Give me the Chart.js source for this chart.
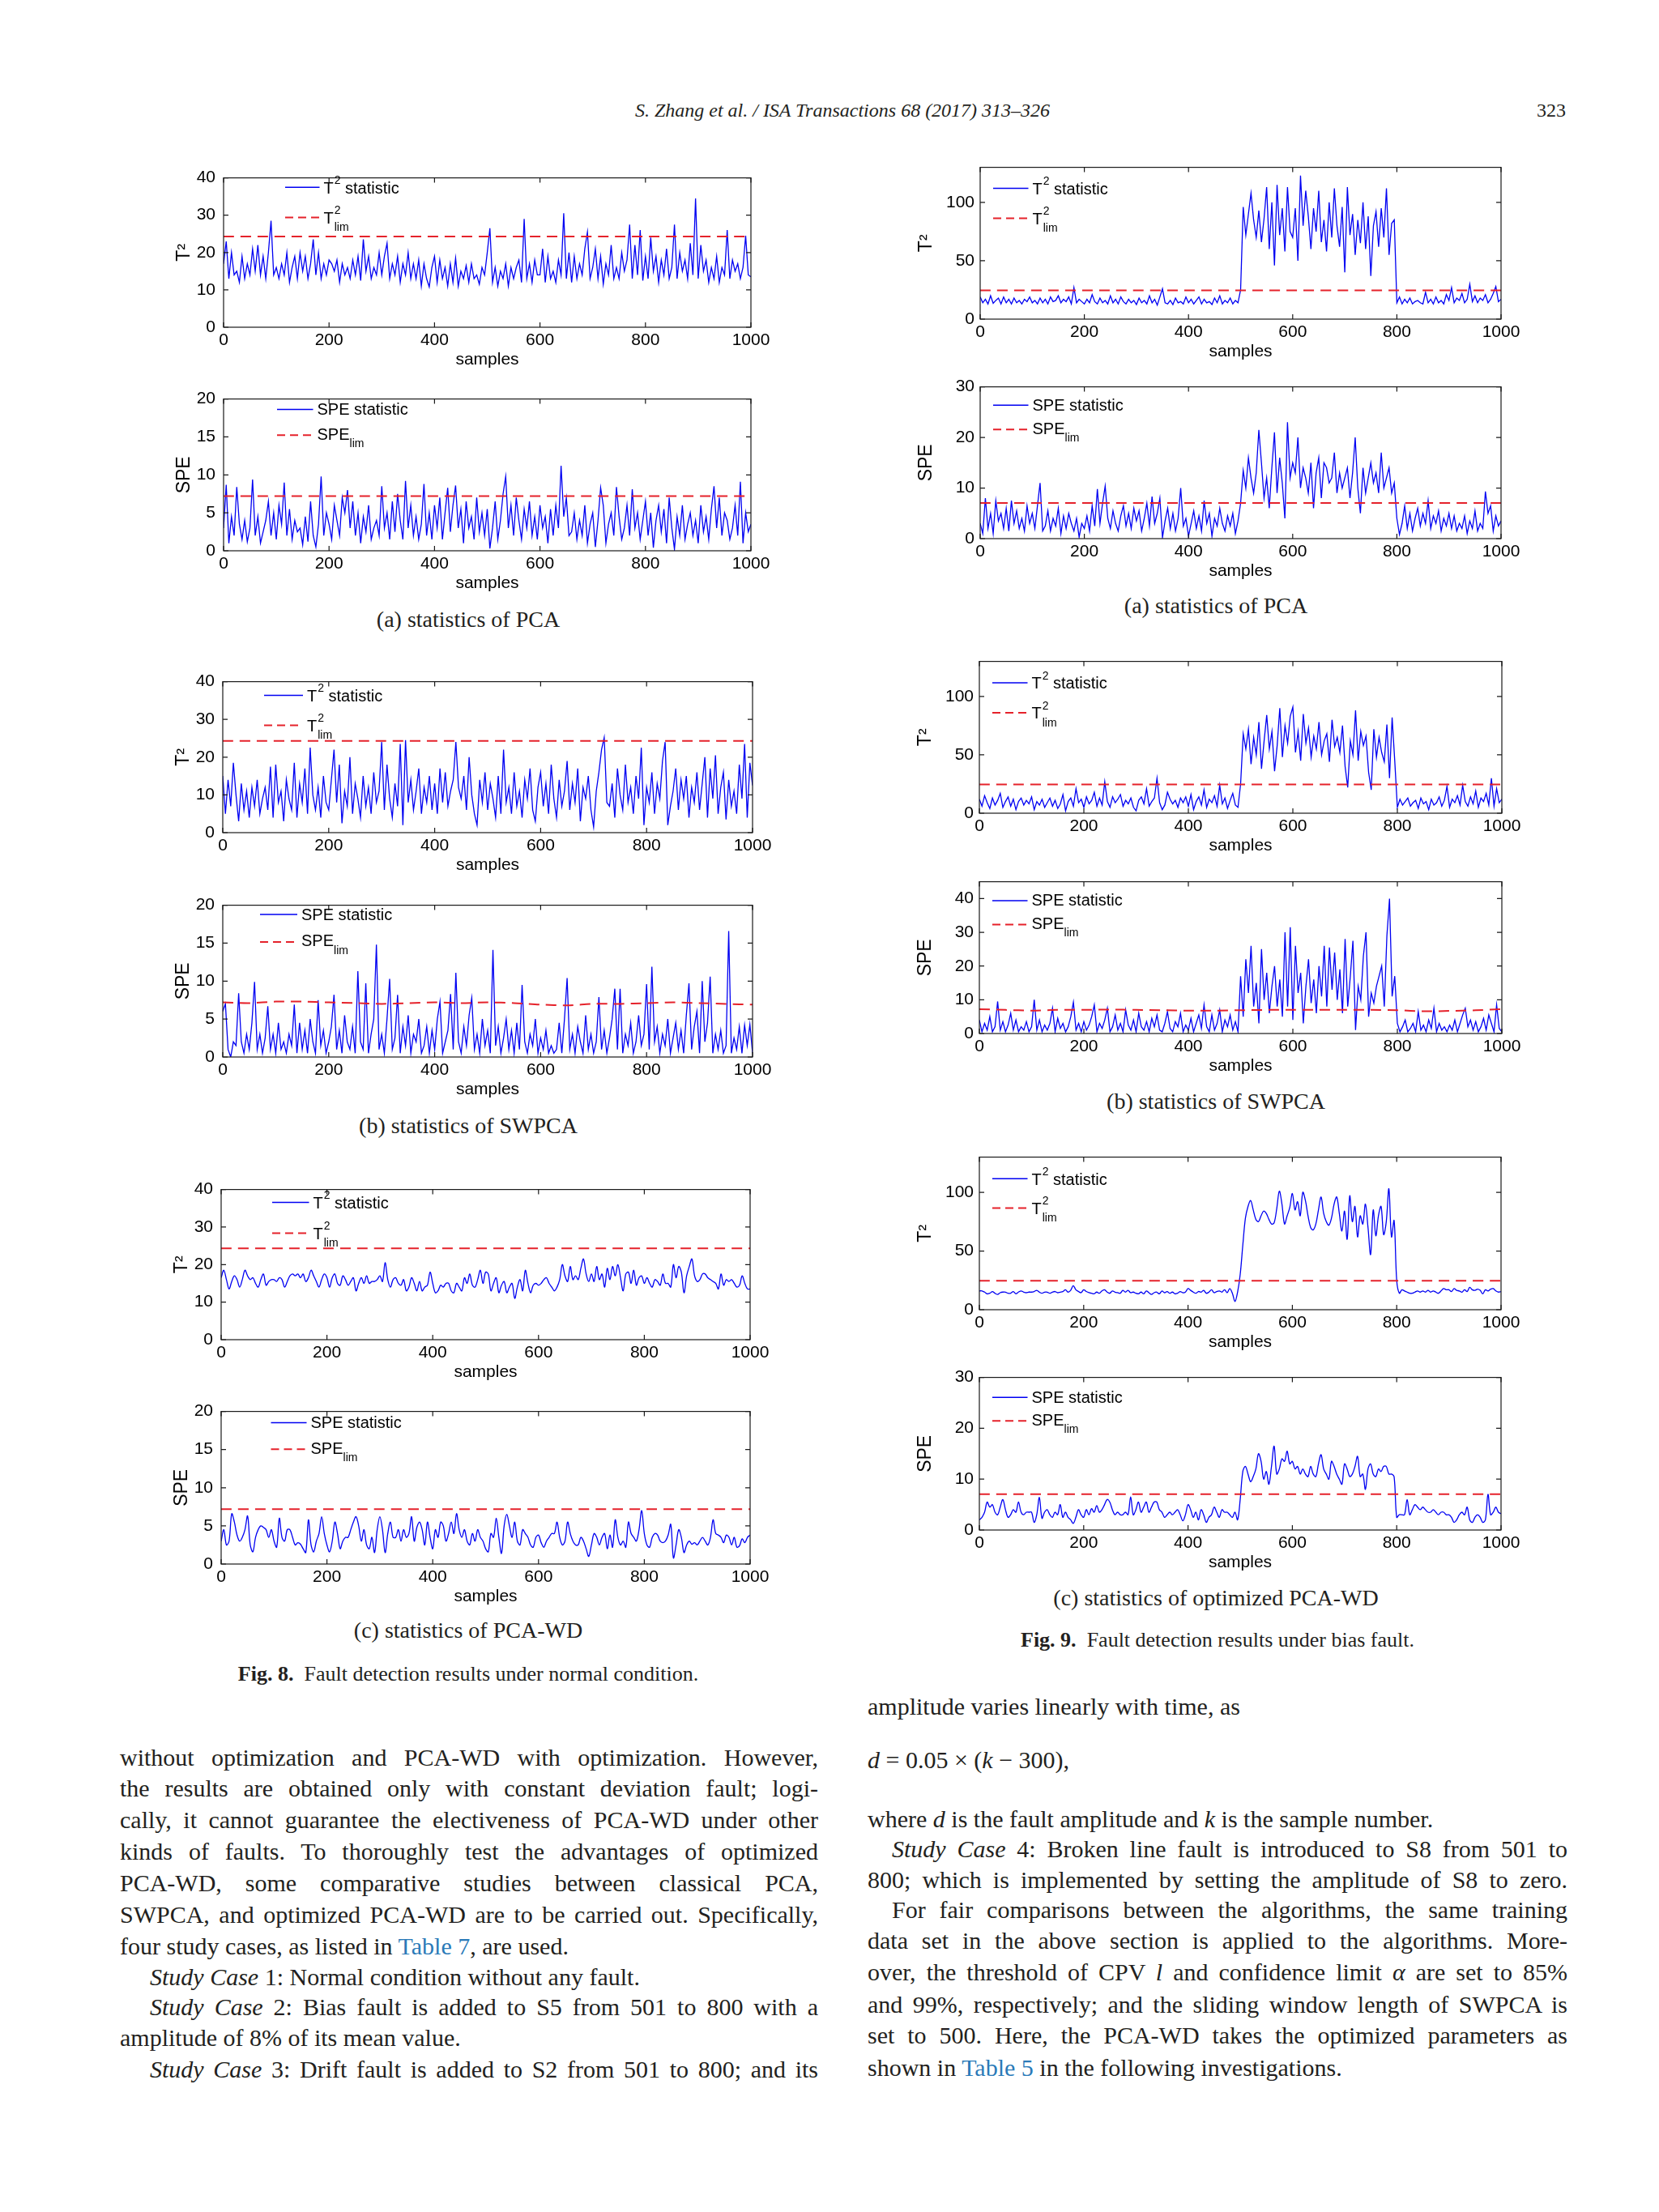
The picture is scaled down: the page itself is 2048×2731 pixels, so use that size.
<!DOCTYPE html>
<html>
<head>
<meta charset="utf-8">
<script src="https://cdn.jsdelivr.net/npm/chart.js@4.4.0/dist/chart.umd.min.js"></script>
<style>
body { margin: 0; background: #fff; }
#page { position: relative; width: 2048px; height: 2731px; font-family: "Liberation Serif", "Times New Roman", serif; color: #231f20; overflow: hidden; }
.hd { position: absolute; font-size: 24px; line-height: 30px; white-space: nowrap; }
.cap { position: absolute; font-size: 28px; line-height: 34px; white-space: nowrap; transform: translateX(-50%); }
.fig { position: absolute; font-size: 26px; line-height: 30px; white-space: nowrap; transform: translateX(-50%); }
.ln { position: absolute; font-size: 30px; line-height: 38px; height: 38px; white-space: nowrap; }
.j { text-align: justify; text-align-last: justify; }
.lk { color: #2a7ab8; }
canvas { position: absolute; }
</style>
</head>
<body>
<div id="page">
  <div class="hd" style="left:1040px;top:121px;transform:translateX(-50%);font-style:italic">S. Zhang et al. / ISA Transactions 68 (2017) 313–326</div>
  <div class="hd" style="left:1897px;top:121px">323</div>

  <div class="cap" style="left:578px;top:748px">(a) statistics of PCA</div>
  <div class="cap" style="left:578px;top:1373px">(b) statistics of SWPCA</div>
  <div class="cap" style="left:578px;top:1996px">(c) statistics of PCA-WD</div>
  <div class="fig" style="left:578px;top:2052px"><b>Fig. 8.</b>&nbsp; Fault detection results under normal condition.</div>

  <div class="cap" style="left:1501px;top:731px">(a) statistics of PCA</div>
  <div class="cap" style="left:1501px;top:1343px">(b) statistics of SWPCA</div>
  <div class="cap" style="left:1501px;top:1956px">(c) statistics of optimized PCA-WD</div>
  <div class="fig" style="left:1503px;top:2010px"><b>Fig. 9.</b>&nbsp; Fault detection results under bias fault.</div>

  <div class="ln j" style="left:148px;width:862px;top:2151px">without optimization and PCA-WD with optimization. However,</div>
  <div class="ln j" style="left:148px;width:862px;top:2189px">the results are obtained only with constant deviation fault; logi-</div>
  <div class="ln j" style="left:148px;width:862px;top:2228px">cally, it cannot guarantee the electiveness of PCA-WD under other</div>
  <div class="ln j" style="left:148px;width:862px;top:2267px">kinds of faults. To thoroughly test the advantages of optimized</div>
  <div class="ln j" style="left:148px;width:862px;top:2306px">PCA-WD, some comparative studies between classical PCA,</div>
  <div class="ln j" style="left:148px;width:862px;top:2345px">SWPCA, and optimized PCA-WD are to be carried out. Specifically,</div>
  <div class="ln" style="left:148px;width:862px;top:2384px">four study cases, as listed in <span class="lk">Table 7</span>, are used.</div>
  <div class="ln" style="left:185px;width:825px;top:2422px"><i>Study Case</i> 1: Normal condition without any fault.</div>
  <div class="ln j" style="left:185px;width:825px;top:2459px"><i>Study Case</i> 2: Bias fault is added to S5 from 501 to 800 with a</div>
  <div class="ln" style="left:148px;width:862px;top:2497px">amplitude of 8% of its mean value.</div>
  <div class="ln j" style="left:185px;width:825px;top:2536px"><i>Study Case</i> 3: Drift fault is added to S2 from 501 to 800; and its</div>

  <div class="ln" style="left:1071px;width:864px;top:2088px">amplitude varies linearly with time, as</div>
  <div class="ln" style="left:1071px;width:864px;top:2154px"><i>d</i> = 0.05 × (<i>k</i> − 300),</div>
  <div class="ln" style="left:1071px;width:864px;top:2227px">where <i>d</i> is the fault amplitude and <i>k</i> is the sample number.</div>
  <div class="ln j" style="left:1101px;width:834px;top:2264px"><i>Study Case</i> 4: Broken line fault is introduced to S8 from 501 to</div>
  <div class="ln j" style="left:1071px;width:864px;top:2302px">800; which is implemented by setting the amplitude of S8 to zero.</div>
  <div class="ln j" style="left:1101px;width:834px;top:2339px">For fair comparisons between the algorithms, the same training</div>
  <div class="ln j" style="left:1071px;width:864px;top:2377px">data set in the above section is applied to the algorithms. More-</div>
  <div class="ln j" style="left:1071px;width:864px;top:2416px">over, the threshold of CPV <i>l</i> and confidence limit <i>α</i> are set to 85%</div>
  <div class="ln j" style="left:1071px;width:864px;top:2456px">and 99%, respectively; and the sliding window length of SWPCA is</div>
  <div class="ln j" style="left:1071px;width:864px;top:2494px">set to 500. Here, the PCA-WD takes the optimized parameters as</div>
  <div class="ln" style="left:1071px;width:864px;top:2534px">shown in <span class="lk">Table 5</span> in the following investigations.</div>
</div>
<script>
// one value every 5 samples, 0..1000
const sampleStep = 5;
const limStep = 50;
const xTicks = [0, 200, 400, 600, 800, 1000];
const t2TicksLeft = [0, 10, 20, 30, 40];
const speTicksLeft = [0, 5, 10, 15, 20];
const t2TicksRight = [0, 50, 100];
const speTicksRight = [0, 10, 20, 30];
const speTicksSwBias = [0, 10, 20, 30, 40];

// Fig. 8 - normal condition
const pcaT2Normal = [
  17, 23, 13, 20, 14, 15, 12, 19, 13, 17, 14, 21, 15, 22, 14, 19, 13, 20, 28.5, 14,
  16, 13, 17, 14, 20, 12, 16, 19, 13, 20, 15, 19, 13, 17, 23.5, 14, 20, 13, 17, 14,
  18, 17, 15, 18, 12, 17, 14, 16, 13, 18, 14, 19, 12.5, 23.5, 15, 19, 13, 16, 14, 20,
  14, 19, 22.5, 13, 17, 14, 19, 12, 17, 14, 20, 13, 17, 13, 18, 11, 17, 13, 10.8, 16,
  19, 12, 18, 13, 16, 11, 17, 12, 18.5, 11, 15, 13, 16.5, 12, 17, 13, 14, 11.5, 16, 14,
  20, 26.5, 12, 16, 11, 15, 13, 17, 11, 16, 13, 16, 18, 12, 29, 13, 17, 12, 18, 14,
  14, 21, 12, 19, 13, 15, 12, 18, 14, 30.5, 13, 20, 12, 19, 13, 17, 14, 21, 25.5, 13,
  16, 21, 13, 19, 11.5, 17, 14, 22, 13, 16, 13, 20, 15, 18, 27.5, 13, 22, 14, 26, 12.5,
  19, 13, 24, 15, 19, 12, 18, 14, 21, 13, 16, 27.5, 13, 20, 15, 18, 13, 22.5, 14, 34.5,
  13, 22, 15, 18, 12, 16, 13, 19, 12, 16, 14, 26, 13, 18, 15, 17, 13, 16, 24.5, 14,
  13.5
];
const pcaSpeNormal = [
  3, 8.7, 1, 4.5, 2, 8.4, 3.5, 1.5, 4, 1.2, 3, 9.4, 2, 4.5, 1, 2.5, 4, 6.5, 2, 5,
  1.5, 6, 3.5, 9, 2, 5.5, 1.5, 4, 2.5, 3, 0.8, 4.5, 1.2, 6.5, 2, 0.5, 3.5, 9.8, 2, 5,
  3.5, 1.5, 6, 4, 2, 7, 5, 8, 3, 6.5, 2, 5, 1, 4.5, 2.5, 6, 1.5, 3, 4, 2,
  8.5, 3, 5, 1.5, 6.5, 2.5, 7.5, 4, 1.5, 9.2, 3, 6, 2, 4.5, 1.5, 3.5, 8.8, 2, 5, 1.5,
  6, 3, 7, 1.5, 5, 8.3, 2.5, 6, 8.6, 3, 5.5, 1, 6.5, 3, 4.5, 1.5, 7, 2.5, 5, 2,
  5.5, 0.3, 3, 6.5, 1.5, 4, 7.5, 9.8, 3, 6, 2, 7, 4, 1.5, 5.5, 3, 6.5, 2, 4.5, 1.5,
  6, 3, 4.5, 1, 5.5, 2, 6, 3, 11.2, 4.5, 7, 2, 2.5, 5, 1.5, 4, 2, 6, 1, 3.5,
  5, 0.5, 4, 8.3, 6, 1, 3.5, 5, 2, 8.4, 4.5, 1.5, 3, 6, 2, 8.1, 3, 5, 1.5, 4,
  6.5, 2, 5, 0.4, 4, 6, 2.5, 5.5, 1, 7, 3, 0.2, 4.5, 2, 6, 1.5, 3.5, 5, 2, 4,
  1, 6, 2.5, 4.5, 1.5, 5.5, 8.5, 3, 7, 2, 5, 4, 1.5, 3, 6, 2, 9.1, 1, 5, 2.5,
  3.5
];
const swpcaT2Normal = [
  15, 5, 14, 7, 18.5, 10, 3, 13, 6, 11, 4, 12, 7, 14, 5, 9, 12, 6, 17.5, 4,
  18, 8, 11, 3, 14, 9, 6, 18.5, 4, 13, 8, 17, 5, 22.5, 10, 6, 12, 4, 15, 8,
  6, 14, 22, 8, 18, 2.5, 11, 7, 20, 5, 13, 9, 4, 15, 7, 12, 5, 16, 8, 11,
  24, 6, 18, 9, 4, 13, 7, 23.5, 2, 24.5, 8, 14, 6, 11, 17, 5, 12, 8, 15, 6,
  13, 5, 17, 8, 16, 7, 11, 14, 24, 12, 9, 15, 6, 20, 10, 5, 2, 14, 8, 16,
  6, 13, 9, 4, 15, 5, 22, 8, 12, 5, 16, 7, 11, 4, 14, 9, 17, 6, 3, 12,
  16, 7, 13, 5, 18, 9, 4, 14, 7, 11, 19, 6, 13, 8, 17, 3, 12, 9, 15, 6,
  1.5, 11, 16, 22, 25.2, 8, 7, 13, 4, 17, 10, 6, 18, 8, 12, 5, 15, 9, 22.5, 2,
  12, 8, 16, 5, 13, 9, 19, 24, 2, 7, 11, 17, 6, 14, 9, 15, 4, 12, 8, 16,
  6, 13, 20, 4, 17, 9, 20.5, 5, 12, 16, 3.5, 14, 7, 11, 5, 18, 9, 23.5, 4, 18.5,
  12.5
];
const swpcaSpeNormal = [
  6, 7, 1, 0, 2, 1.5, 8.4, 2, 0.5, 3, 1, 4.5, 9.9, 1, 3, 0.5, 2.5, 6.7, 1, 3,
  0.5, 4.5, 1, 2, 0.5, 3, 1.5, 6.9, 0.5, 4.5, 1, 3.5, 0.5, 5, 2, 0.5, 7.5, 1.5, 3.5, 0.5,
  2, 4, 8.2, 1, 3.5, 0.5, 5.5, 2, 1, 4, 0.5, 11.3, 2, 1, 9.7, 0.5, 3, 5, 14.8, 1,
  3, 0.5, 5, 10.3, 1, 2.5, 8.2, 0.5, 4, 1.5, 5.5, 0.5, 3, 2, 5, 0.5, 1.5, 4, 0.5, 3.5,
  1, 5, 7.3, 0.5, 2, 3.5, 8.3, 1, 11.1, 2, 0.5, 4, 1.5, 5.5, 7.8, 1, 3, 0.5, 5, 1.5,
  3.5, 0.5, 14.1, 1.5, 4, 0.5, 2.5, 5, 1, 3.5, 0.5, 4.5, 1, 9.5, 2, 0.5, 3, 1.5, 5, 0.5,
  2.5, 1, 3.5, 0.5, 1.5, 0.5, 1, 4.5, 0.5, 5, 10.4, 1, 3, 0.5, 4, 2, 0.5, 5.5, 1, 3,
  0.5, 2, 7.9, 1, 3.5, 0.5, 2.5, 5, 9, 1, 9, 0.5, 3, 1.5, 4.5, 0.5, 2, 5.5, 1.5, 3,
  9.6, 1, 11.9, 2, 4, 0.5, 3, 1.5, 5, 0.5, 2.5, 4.5, 1, 3.5, 0.5, 5.5, 9.7, 1, 4, 6,
  0.5, 10, 2, 4.5, 10.6, 0.5, 3, 1, 3.5, 0.5, 1.5, 16.6, 0.5, 2.5, 1, 4, 0.5, 4.2, 1.5, 4.3,
  0.5
];
const pcawdT2Normal = [
  16.5, 18.5, 16, 13.5, 15.5, 17, 16, 14, 16, 18.5, 17, 16, 16.5, 15, 14, 16, 17.5, 14.5, 15.5, 16,
  16, 15.5, 16.5, 16, 14, 15.5, 17, 17.5, 17, 17.5, 16.5, 17.5, 15.5, 16.5, 18.5, 17, 15.5, 14, 16, 17.5,
  16.5, 14, 16.5, 17.5, 15, 14.5, 17, 16, 14.5, 15.5, 16.5, 13, 15, 16.5, 15, 17, 15, 15.5, 15.5, 16,
  17, 15.5, 20.5, 16, 14, 16, 16.5, 15, 14.5, 16, 13, 14, 16.5, 15, 13, 15.5, 13, 14, 14.5, 18,
  15, 12.5, 13, 14.5, 14, 15, 15, 13, 12.5, 15, 14, 13, 16.5, 15, 17.5, 14.5, 14, 16, 18.5, 15,
  18, 17.5, 13, 15, 16.5, 12.5, 14.5, 15.5, 12.5, 14, 15, 11, 14, 16, 13, 18.5, 15, 12.5, 14.5, 15,
  14.5, 15, 16, 16.5, 15, 14, 13, 14, 16, 20, 17, 15.5, 19.5, 16, 17, 16, 19, 21.5, 17.5, 15.5,
  17.5, 15.5, 19.5, 16, 17.5, 14, 19, 16, 19.5, 17, 20, 16.5, 13, 17.5, 18, 15, 18.5, 14.5, 16.5, 17,
  15, 16.5, 15, 14, 16, 15.5, 14.5, 17.5, 15, 15, 14, 20, 16.5, 19.5, 18, 12.5, 17, 19.5, 21.5, 17,
  15.5, 16, 17.5, 17.5, 16.5, 16, 15.5, 15, 13.5, 17.5, 14.5, 16, 15.5, 16, 15, 14, 14.5, 17, 15, 13.5,
  13.5
];
const pcawdSpeNormal = [
  3, 4.5, 2.5, 3, 6.6, 5.5, 3.8, 3, 3.5, 4.5, 6.3, 2.5, 1.6, 3.5, 4.5, 5, 4.8, 4.5, 3.5, 4.5,
  3, 2.2, 6, 3.5, 3, 4.5, 4.5, 3.5, 2.5, 2.8, 2.6, 2, 1.5, 5.8, 2.5, 1.6, 3, 4, 6.2, 4,
  2.5, 1.6, 3, 5.5, 4, 2, 3, 3.5, 3.5, 4.5, 5.5, 6.2, 5, 3, 4.5, 2.5, 2, 3.5, 1.5, 4.5,
  6.2, 4.5, 1.5, 4, 5.5, 3.5, 3.5, 4.5, 3, 4.5, 3.5, 4, 6.2, 3, 4.8, 5.5, 4.5, 2.5, 5.5, 3.5,
  2, 4.5, 3.5, 5.5, 5, 3, 4, 5.5, 4, 6.6, 4.5, 3.5, 4.5, 3, 2.5, 4, 3, 4.5, 3.5, 3,
  2, 1.6, 4, 3.5, 6, 3.5, 1.4, 5, 6.5, 5, 3.5, 5.5, 3, 2.5, 4.5, 4, 3.5, 2.5, 2.2, 3.5,
  3.8, 2.8, 2.2, 3, 3.5, 4, 4, 5.5, 3.5, 2.5, 3, 5.5, 4, 3, 2.5, 2.5, 3.5, 3, 2, 1,
  2.5, 4, 3.5, 2.5, 3.5, 4, 2, 3.8, 2.2, 5.8, 3.5, 2.5, 3, 2.2, 5.5, 4, 3.5, 3, 4.5, 7,
  4, 2.5, 2.2, 3.5, 4, 3.8, 3, 2.8, 3, 3.8, 5.2, 0.8, 2.5, 4.5, 3.5, 1.5, 2.5, 3, 2.6, 2.8,
  2.5, 3, 3.5, 3, 2.5, 3.5, 5.8, 4, 3.8, 3.5, 2.8, 3.8, 3.5, 2.5, 3.5, 2.2, 2.4, 3.3, 2.8, 3.5,
  3.8
];

// Fig. 9 - bias fault
const pcaT2Bias = [
  19, 14, 17, 13, 20, 13.5, 16, 18, 13, 19, 14, 17, 13, 18, 14, 16, 13, 17, 15, 19,
  14, 16, 13, 18, 14, 17, 13, 19, 15, 16, 20, 14, 17, 15, 19, 13, 27, 14, 17, 15,
  13, 17, 14, 21, 15, 13, 18, 14, 16, 13, 20, 14, 17, 13, 19, 15, 13, 17, 14, 16,
  12.5, 18, 14, 16, 13, 20, 14, 17, 12, 19, 26, 14, 13, 16, 12.5, 18, 14, 15, 13, 19,
  14, 17, 13, 16, 19, 13, 17, 14, 15, 12.5, 18, 14, 20, 13, 16, 14, 18, 13, 16, 14,
  25, 96, 72, 90, 108, 85, 70, 93, 66, 86, 113, 60, 100, 46, 115, 72, 95, 58, 113, 75,
  70, 95, 50, 123, 80, 110, 88, 60, 95, 75, 110, 66, 85, 58, 100, 70, 112, 80, 62, 96,
  40, 113, 72, 90, 55, 85, 65, 100, 60, 88, 37, 80, 92, 62, 95, 70, 112, 55, 82, 85,
  14, 19, 13, 17, 14, 18, 13, 15, 16, 14, 13, 23, 14, 17, 13, 19, 14, 16, 13, 21,
  16, 27, 14, 18, 16, 22, 14, 17, 30, 15, 20, 14, 18, 16, 21, 14, 17, 22, 28, 15,
  17
];
const pcaSpeBias = [
  3, 1, 8, 2, 5, 1, 7.5, 3.5, 5, 2, 6, 1.5, 7.5, 3, 5.5, 2, 4, 1.5, 6.5, 3,
  5, 2, 6.5, 11, 1.5, 2.5, 5.5, 1.5, 4, 2.5, 6, 1, 4.5, 2, 5, 3, 1.5, 4, 0.3, 3,
  2, 4.5, 1.5, 6.5, 2.5, 9.8, 3, 7, 10.4, 4, 2, 5.5, 3, 1.5, 4.5, 6.5, 2.5, 5, 2, 6,
  3.5, 5.5, 1.5, 4, 7, 2.5, 8.3, 3, 5, 8, 0.2, 3.5, 6, 2, 5, 1.5, 4, 10, 2.5, 4,
  0.5, 3, 5.5, 2, 4.5, 1.5, 7.5, 3, 5, 0.5, 4, 2.5, 6, 3, 1.5, 4.5, 2.5, 5, 1, 3.5,
  7, 13.5, 10, 16, 12, 9, 13, 21.5, 15, 8, 12, 6, 14, 21, 9, 16, 11, 4, 23, 12,
  15, 13, 20, 10, 14, 12, 9, 15, 6, 13, 16, 8, 15, 14, 11, 12, 17, 9, 13, 10,
  12, 14, 8, 13, 20, 10, 5, 14, 9, 12, 15, 11, 13, 9, 17, 10, 12, 14, 9, 11,
  4, 0.8, 3, 6.5, 2, 5, 1.5, 4, 6, 2.5, 5, 3, 7.5, 2, 4.5, 3, 5.5, 1.5, 4, 2.5,
  5, 2, 4.5, 1.5, 3, 2, 4.5, 1, 3.5, 2, 5.5, 1.5, 3, 2, 9.3, 5, 6.5, 1.5, 4.5, 2.5,
  3.5
];
const swpcaT2Bias = [
  12, 6, 15, 9, 4, 13, 7, 11, 17, 5, 10, 14, 6, 12, 3, 10, 13, 7, 11, 8,
  14, 3, 10, 7, 12, 5, 9, 13, 6, 11, 4, 8, 16, 2, 10, 13, 6, 21, 9, 12,
  5, 14, 8, 11, 18, 6, 13, 7, 27, 10, 5, 14, 9, 12, 16, 6, 11, 8, 13, 5,
  2, 11, 14, 8, 21, 6, 10, 13, 30, 9, 3, 7, 18, 12, 8, 11, 5, 13, 9, 14,
  6, 16, 3, 10, 14, 7, 20, 5, 12, 9, 15, 6, 24, 8, 13, 4, 11, 17, 7, 5,
  25, 68, 55, 72, 42, 65, 50, 78, 38, 62, 84, 55, 70, 36, 58, 90, 48, 75, 60, 83,
  91, 52, 70, 45, 85, 60, 73, 48, 66, 55, 78, 50, 62, 68, 44, 80, 57, 65, 52, 75,
  40, 22, 62, 50, 88, 45, 70, 58, 66, 35, 20, 72, 48, 65, 52, 44, 76, 30, 82, 45,
  5, 12, 7, 10, 13, 6, 9, 11, 4, 13, 8, 10, 3, 12, 7, 9, 14, 6, 11, 23,
  5, 12, 9, 15, 7, 24, 10, 6, 14, 8, 19, 5, 13, 10, 17, 7, 30, 6, 21, 9,
  12
];
const swpcaSpeBias = [
  4, 0.5, 3, 1, 5, 0.5, 2, 9.5, 1, 3.5, 0.5, 2.5, 6, 1, 4, 0.5, 2, 1, 3.5, 0.5,
  2, 10, 1, 4, 0.5, 2.5, 1, 3, 7.5, 0.5, 4.5, 1.5, 3, 0.5, 2, 5, 9.3, 1, 3, 0.5,
  3.5, 1, 2.5, 5, 8.5, 0.5, 3, 1.5, 4, 7.5, 0.5, 2, 5.5, 1, 3, 0.5, 7, 2.5, 1, 4,
  0.5, 6, 2, 1, 3.5, 0.5, 4.5, 2, 5.5, 1, 0.5, 3, 6.5, 1.5, 0.5, 3.5, 2, 6, 0.5, 2.5,
  1, 4.5, 0.5, 3, 5.5, 1.5, 8.5, 2, 0.5, 5.5, 1, 3, 7, 0.5, 4, 2, 5.5, 1, 3.5, 0.5,
  17, 5, 22, 12, 26, 8, 15, 3, 25, 10, 18, 6, 14, 20, 8, 16, 5, 30, 8, 31.5,
  4, 26, 12, 18, 3, 14, 22, 9, 16, 6, 20, 11, 26, 8, 25.5, 13, 24, 10, 19, 6,
  28, 8, 17, 27.5, 1, 14, 10, 23, 30, 5, 12, 9, 14, 17, 20, 8, 29, 40, 11, 17,
  3, 0.5, 2, 4, 0.5, 1.5, 3, 0.5, 6.5, 1, 2.5, 0.5, 4, 1.5, 7.5, 0.5, 3, 1, 2, 0.5,
  2.5, 1, 4, 0.5, 3, 5.5, 7.5, 2, 4, 1, 3.5, 0.5, 2, 4.5, 1, 5.5, 3, 0.5, 8.5, 1.5,
  0.5
];
const optWdT2Bias = [
  16, 16, 15, 13.5, 14, 15.5, 14, 13, 14.5, 15, 15, 14, 14, 15.5, 13.5, 15, 16, 15, 14.5, 15,
  15, 15.5, 16.5, 15, 14, 15, 15, 14, 15, 15.5, 14.5, 15, 15.5, 17, 15, 16.5, 20.5, 17, 15.5, 14.5,
  17, 15.5, 14.5, 14, 13.5, 15, 14, 16, 17, 15, 14, 16, 15, 14.5, 14, 16.5, 15, 16.5, 14.5, 15,
  14, 13.5, 15, 13.5, 16, 14.5, 13, 14.5, 15, 13.5, 16, 14.5, 15.5, 14, 15, 13.5, 14, 15.5, 14.5, 15,
  18, 16.5, 15, 14, 15.5, 15, 16.5, 14, 15, 17, 14.5, 15.5, 16, 15, 17, 14.5, 18, 14, 7, 15,
  30, 55, 78, 88, 93, 85, 77, 75, 80, 84, 82, 77, 73, 74, 86, 101, 90, 73, 80, 87,
  99, 85, 92, 80, 100, 93, 80, 70, 68, 73, 85, 96, 82, 75, 72, 78, 90, 96, 82, 67,
  84, 60, 97, 75, 88, 62, 80, 73, 90, 70, 47, 85, 63, 80, 88, 64, 75, 103, 62, 76,
  25, 14, 17, 16, 15, 14, 14, 15, 16, 15, 16, 15, 16.5, 15, 16, 15, 14, 16, 18, 17,
  17, 15.5, 18, 16.5, 16, 15, 17, 15.5, 19, 17, 16.5, 17.5, 16.5, 13.5, 17, 16, 17.5, 18, 16, 15,
  15.5
];
const optWdSpeBias = [
  2, 2.5, 3.5, 5.5, 4.5, 5, 3.5, 3, 4.5, 6, 4, 2.5, 3, 4, 3.5, 5.5, 3.5, 3, 3.5, 3.5,
  3.5, 1.5, 3, 6.4, 2.3, 3.5, 4, 3, 2.5, 3.5, 3, 5, 2.5, 3.5, 2.5, 2, 1.3, 2.5, 4, 3,
  2.5, 4, 3, 4.2, 3.5, 4.8, 3.5, 4, 5, 6, 5.5, 4, 3, 3.5, 3, 3, 3.5, 3, 6.5, 3,
  4, 5.5, 3.5, 4.5, 5.5, 3.5, 4.5, 5.5, 5.5, 4, 3.5, 2.5, 3, 3.5, 3, 3.5, 4, 3, 1.8, 3,
  5, 4, 2.5, 3.5, 2, 4, 3, 1.5, 2.5, 3, 4.5, 3.5, 2.5, 4, 3.5, 3.5, 3, 2.5, 3.5, 2,
  6, 11.5, 12.5, 11, 9.5, 10.5, 12, 15, 13.5, 10, 11.5, 9, 12.5, 16.5, 11, 12, 14, 13.5, 15.5, 13,
  13.5, 12, 12.5, 11, 12, 11, 10.5, 12.5, 11, 10.5, 13, 14.8, 12, 11, 10, 13.5, 12.5, 11, 10, 9,
  13, 12, 10.5, 11, 12.5, 14.5, 10.5, 11, 8, 12, 13, 11, 10.5, 12, 11.5, 12.5, 12.5, 11, 11, 10.5,
  2.5, 3, 3, 3, 6, 3, 4, 5, 4.5, 4, 4.5, 4, 3.5, 3.5, 4, 3.5, 3, 3.5, 3.5, 3,
  3, 2.5, 1.5, 2, 3, 3.5, 3, 4.5, 2, 1.5, 2.5, 3, 2.5, 1.5, 2, 7, 3, 3.5, 4.5, 3.5,
  3.2
];

// control limits
const t2LimNormal = 24.3;
const speLimNormal = 7.2;
const swpcaSpeLimNormal = [7.2, 7.1, 7.3, 7.3, 7.2, 7.1, 7.0, 7.1, 7.2, 7.1, 7.2, 7.1, 6.9, 6.8, 7.0, 7.0, 7.1, 7.2, 7.1, 7.0, 6.9];
const t2LimBias = 24.7;
const speLimBias = 7.05;
const swpcaSpeLimBias = [7.2, 7.0, 6.8, 7.0, 7.0, 7.1, 7.0, 6.9, 6.8, 6.8, 6.9, 7.0, 7.0, 7.0, 7.0, 7.0, 6.9, 6.6, 6.7, 6.9, 7.2];

const FONT = '"Liberation Sans", Arial, sans-serif';
const BLUE = '#0000f2';
const RED = '#e5222b';
Chart.defaults.font.family = FONT;
Chart.defaults.color = '#000';

const page = document.getElementById('page');

// plot boxes measured on the page (left, top, right, bottom)
const figs = [
  {l: 275.5, t: 212.7, r: 926, b: 403.3, vals: pcaT2Normal, lim: t2LimNormal, yMax: 40, yTicks: t2TicksLeft, title: 'T²', kind: 'T2', lg: [76, 118.5, 11.6, 49], tl: 48.5},
  {l: 275.5, t: 486, r: 926, b: 680, vals: pcaSpeNormal, lim: speLimNormal, yMax: 20, yTicks: speTicksLeft, title: 'SPE', kind: 'SPE', lg: [66, 110.5, 13, 44.7], tl: 48.5},
  {l: 274.5, t: 835, r: 928, b: 1028, vals: swpcaT2Normal, lim: t2LimNormal, yMax: 40, yTicks: t2TicksLeft, title: 'T²', kind: 'T2', lg: [51, 99, 17, 54], tl: 48.5},
  {l: 274.5, t: 1110.7, r: 928, b: 1305, vals: swpcaSpeNormal, lim: swpcaSpeLimNormal, yMax: 20, yTicks: speTicksLeft, title: 'SPE', kind: 'SPE', lg: [46, 92, 11.5, 45.3], tl: 48.5},
  {l: 272.5, t: 1461.7, r: 925, b: 1654, vals: pcawdT2Normal, lim: t2LimNormal, yMax: 40, yTicks: t2TicksLeft, title: 'T²', kind: 'T2', lg: [63, 108.5, 16, 54], tl: 48.5, smooth: true},
  {l: 272.5, t: 1736, r: 925, b: 1930.7, vals: pcawdSpeNormal, lim: speLimNormal, yMax: 20, yTicks: speTicksLeft, title: 'SPE', kind: 'SPE', lg: [61.5, 105.5, 14, 46.7], tl: 48.5, smooth: true},
  {l: 1210.3, t: 202.7, r: 1853, b: 393.3, vals: pcaT2Bias, lim: t2LimBias, yMax: 130, yTicks: t2TicksRight, title: 'T²', kind: 'T2', lg: [16, 59.5, 26, 63], tl: 66, right: true},
  {l: 1210.3, t: 474, r: 1853, b: 665, vals: pcaSpeBias, lim: speLimBias, yMax: 30, yTicks: speTicksRight, title: 'SPE', kind: 'SPE', lg: [16, 59.5, 22.7, 52.7], tl: 66, right: true},
  {l: 1208.5, t: 812.7, r: 1853, b: 1003.3, vals: swpcaT2Bias, lim: t2LimBias, yMax: 130, yTicks: t2TicksRight, title: 'T²', kind: 'T2', lg: [16, 59.5, 26.3, 63.3], tl: 66, right: true},
  {l: 1208.5, t: 1084.7, r: 1853, b: 1276, vals: swpcaSpeBias, lim: swpcaSpeLimBias, yMax: 45, yTicks: speTicksSwBias, title: 'SPE', kind: 'SPE', lg: [16, 59.5, 23.3, 53], tl: 66, right: true},
  {l: 1209.4, t: 1425, r: 1853, b: 1616.7, vals: optWdT2Bias, lim: t2LimBias, yMax: 130, yTicks: t2TicksRight, title: 'T²', kind: 'T2', lg: [16, 59.5, 26.7, 63], tl: 66, right: true, smooth: true},
  {l: 1209.4, t: 1697, r: 1853, b: 1889, vals: optWdSpeBias, lim: speLimBias, yMax: 30, yTicks: speTicksRight, title: 'SPE', kind: 'SPE', lg: [16, 59.5, 24.7, 53.7], tl: 66, right: true, smooth: true}
];

// matlab style box with inward ticks on all four sides
const boxPlugin = {
  id: 'boxTicks',
  afterDatasetsDraw(chart) {
    const {ctx, chartArea: a, scales: {x, y}} = chart;
    ctx.save();
    ctx.strokeStyle = '#1a1a1a';
    ctx.lineWidth = 1.2;
    ctx.strokeRect(a.left, a.top, a.right - a.left, a.bottom - a.top);
    ctx.beginPath();
    x.ticks.forEach(t => {
      const px = x.getPixelForValue(t.value);
      ctx.moveTo(px, a.bottom); ctx.lineTo(px, a.bottom - 6);
      ctx.moveTo(px, a.top); ctx.lineTo(px, a.top + 6);
    });
    y.ticks.forEach(t => {
      const py = y.getPixelForValue(t.value);
      ctx.moveTo(a.left, py); ctx.lineTo(a.left + 6, py);
      ctx.moveTo(a.right, py); ctx.lineTo(a.right - 6, py);
    });
    ctx.stroke();
    ctx.restore();
  }
};

// legend with super/subscripts
const legendPlugin = {
  id: 'figLegend',
  afterDraw(chart, args, o) {
    if (!o || !o.kind) return;
    const {ctx, chartArea: a} = chart;
    const x0 = a.left + o.pos[0], x1 = a.left + o.pos[1];
    const y1 = a.top + o.pos[2], y2 = a.top + o.pos[3];
    ctx.save();
    ctx.strokeStyle = BLUE; ctx.lineWidth = 1.5;
    ctx.beginPath(); ctx.moveTo(x0, y1); ctx.lineTo(x1, y1); ctx.stroke();
    ctx.strokeStyle = RED; ctx.lineWidth = 2; ctx.setLineDash([10, 6]);
    ctx.beginPath(); ctx.moveTo(x0, y2); ctx.lineTo(x1, y2); ctx.stroke();
    ctx.setLineDash([]);
    ctx.fillStyle = '#000'; ctx.textBaseline = 'middle'; ctx.textAlign = 'left';
    const big = '20px ' + FONT, small = '14px ' + FONT;
    const tx = x1 + 5;
    if (o.kind === 'T2') {
      ctx.font = big;
      const wT = ctx.measureText('T').width;
      ctx.fillText('T', tx, y1 + 2);
      ctx.fillText('T', tx, y2 + 2);
      ctx.font = small;
      const w2 = ctx.measureText('2').width;
      ctx.fillText('2', tx + wT + 1, y1 - 8);
      ctx.fillText('2', tx + wT + 1, y2 - 8);
      ctx.fillText('lim', tx + wT + 1, y2 + 13);
      ctx.font = big;
      ctx.fillText(' statistic', tx + wT + w2 + 1, y1 + 2);
    } else {
      ctx.font = big;
      ctx.fillText('SPE statistic', tx, y1 + 1);
      const w = ctx.measureText('SPE').width;
      ctx.fillText('SPE', tx, y2);
      ctx.font = small;
      ctx.fillText('lim', tx + w, y2 + 11);
    }
    ctx.restore();
  }
};

function makeChart(f) {
  const PL = 100, PT = 16, PR = 40, PB = 64;
  const left = Math.round(f.l), top = Math.round(f.t);
  const pw = Math.round(f.r - f.l), ph = Math.round(f.b - f.t);
  const cv = document.createElement('canvas');
  cv.width = pw + PL + PR;
  cv.height = ph + PT + PB;
  cv.style.left = (left - PL) + 'px';
  cv.style.top = (top - PT) + 'px';
  cv.style.width = cv.width + 'px';
  cv.style.height = cv.height + 'px';
  page.appendChild(cv);

  const series = f.vals.map((v, i) => ({x: i * sampleStep, y: v}));
  const limPts = Array.isArray(f.lim)
    ? f.lim.map((v, i) => ({x: i * limStep, y: v}))
    : [{x: 0, y: f.lim}, {x: 1000, y: f.lim}];

  new Chart(cv, {
    type: 'line',
    data: {
      datasets: [
        {data: series, borderColor: BLUE, borderWidth: 1.3, pointRadius: 0, tension: f.smooth ? 0.35 : 0, order: 2},
        {data: limPts, borderColor: RED, borderWidth: 2, borderDash: [13, 8], pointRadius: 0, tension: 0.3, order: 1}
      ]
    },
    options: {
      responsive: false,
      animation: false,
      devicePixelRatio: 1,
      layout: {padding: {top: PT, right: PR, left: 0, bottom: 0}},
      plugins: {
        legend: {display: false},
        tooltip: {enabled: false},
        figLegend: {kind: f.kind, pos: f.lg}
      },
      scales: {
        x: {
          type: 'linear', min: 0, max: 1000,
          afterBuildTicks: s => { s.ticks = xTicks.map(v => ({value: v})); },
          ticks: {font: {size: 21}, padding: 4, maxRotation: 0, autoSkip: false, callback: v => String(v)},
          grid: {display: false, drawTicks: false},
          border: {display: false},
          title: {display: true, text: 'samples', font: {size: 21}, padding: {top: 0, bottom: 11.4}},
          afterFit: s => { s.height = PB; }
        },
        y: {
          type: 'linear', min: 0, max: f.yMax,
          afterBuildTicks: s => { s.ticks = f.yTicks.map(v => ({value: v})); },
          ticks: {font: {size: 21}, padding: f.right ? 7 : 10, autoSkip: false, callback: v => String(v)},
          grid: {display: false, drawTicks: false},
          border: {display: false},
          title: {display: true, text: f.title, font: {size: 23}, padding: {top: PL - f.tl - 13.8, bottom: 0}},
          afterFit: s => { s.width = PL; }
        }
      }
    },
    plugins: [boxPlugin, legendPlugin]
  });
}

figs.forEach(makeChart);
</script>
</body>
</html>
